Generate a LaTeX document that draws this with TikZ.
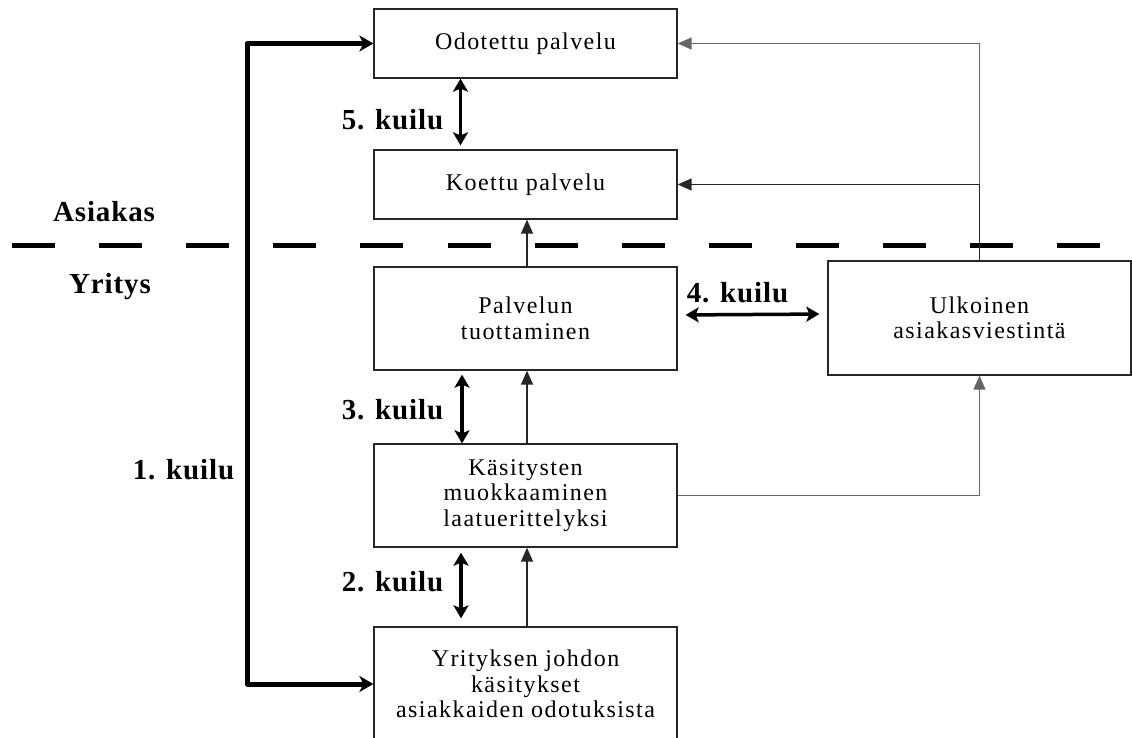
\documentclass[tikz,border=0pt]{standalone}
\usepackage{fontspec}
\setmainfont{Liberation Serif}
\newfontfamily\boxfont[LetterSpace=6]{Liberation Serif}
\newfontfamily\lblfont[LetterSpace=3]{Liberation Serif}
\usetikzlibrary{arrows.meta}
\begin{document}
\begin{tikzpicture}[x=1pt,y=-1pt,
  box/.style={draw=black!85,line width=1.3pt,rectangle,minimum width=303pt,align=center,inner sep=0pt,
    font=\boxfont\fontsize{24}{25.5}\selectfont},
  lbl/.style={inner sep=0pt,font=\lblfont\bfseries\fontsize{29}{32}\selectfont},
  flow/.style={draw=black!85,line width=1.4pt,-{Triangle[length=14pt,width=12pt]}},
  flowgray/.style={draw=black!60,line width=1.4pt},
  gap/.style={draw=black,line width=3.5pt,{Stealth[length=13pt,width=15pt,inset=3pt]}-{Stealth[length=13pt,width=15pt,inset=3pt]}},
  big/.style={draw=black,line width=5pt,line join=round,{Stealth[length=14pt,width=16pt,inset=4pt]}-{Stealth[length=14pt,width=16pt,inset=4pt]}}
]
\useasboundingbox (0,0) rectangle (1132,738);
% dashed boundary
\draw[line width=5pt,dash pattern=on 43pt off 44.1pt] (12,245) -- (1100,245);
\node[lbl] (asiakas) at (104,212) {Asiakas};
\node[lbl] (yritys) at (110,287) {Yritys};

% boxes
\node[box,minimum height=69pt] (odo) at (525.5,43.5) {Odotettu palvelu};
\node[box,minimum height=69pt] (koe) at (525.5,184.5) {Koettu palvelu};
\node[box,minimum height=103pt] (pal) at (525.5,318.5) {Palvelun\\tuottaminen};
\node[box,minimum height=103pt] (kas) at (525.5,495.5) {Käsitysten\\muokkaaminen\\laatuerittelyksi};
\node[box,minimum height=114pt] (yri) at (525.5,684) {Yrityksen johdon\\käsitykset\\asiakkaiden odotuksista};
\node[box,minimum height=114pt] (ulk) at (979.5,318) {Ulkoinen\\asiakasviestintä};

% labels
\node[lbl] (k5) at (392.5,120) {5. kuilu};
\node[lbl] (k4) at (737.5,293) {4. kuilu};
\node[lbl] (k3) at (392.5,410) {3. kuilu};
\node[lbl] (k1) at (183.5,470) {1. kuilu};
\node[lbl] (k2) at (392.5,582) {2. kuilu};

% 1. kuilu
\draw[big] (odo.west) -- ++(-126,0) |- (yri.west);

% gap arrows
\draw[gap,shorten >=4pt] ([xshift=-65pt]odo.south) -- ([xshift=-65pt]koe.north);
\draw[gap,shorten <=4pt] ([xshift=-63.5pt]pal.south) -- ([xshift=-63.5pt]kas.north);
\draw[gap,shorten <=5pt,shorten >=8pt] ([xshift=-64.5pt]kas.south) -- ([xshift=-64.5pt]yri.north);
\draw[gap,shorten <=8pt,shorten >=8pt] ([yshift=3.5pt]pal.east) -- ([yshift=4pt]ulk.west);

% flows upward
\draw[flow] ([xshift=1.5pt]pal.north) -- ([xshift=1.5pt]koe.south);
\draw[flow] ([xshift=1.5pt]kas.north) -- ([xshift=1.5pt]pal.south);
\draw[flow] ([xshift=1.5pt]yri.north) -- ([xshift=1.5pt]kas.south);

% Käsitysten -> Ulkoinen
\draw[flowgray,-{Triangle[length=14pt,width=12pt]}] (kas.east) -| (ulk.south);

% Ulkoinen -> Koettu / Odotettu
\coordinate (j) at (ulk.north |- koe.east);
\draw[flowgray,-{Triangle[length=14pt,width=12pt]}] (ulk.north) |- (odo.east);
\draw[flow] (ulk.north) -- (j) -- (koe.east);
\end{tikzpicture}
\end{document}
